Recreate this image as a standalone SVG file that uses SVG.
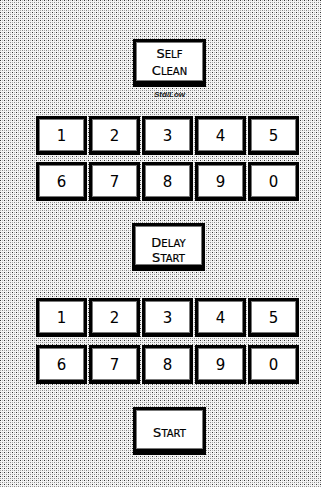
<svg xmlns="http://www.w3.org/2000/svg" width="321" height="487" viewBox="0 0 321 487">
<style>
.o{fill:#000}
.g{fill:#777}
.w{fill:#fff}
.d{font-family:"DejaVu Sans","Liberation Sans",sans-serif;font-size:15px;text-anchor:middle;fill:#000}
.t{font-family:"DejaVu Sans","Liberation Sans",sans-serif;font-size:10px;text-anchor:middle;fill:#000;stroke:#000;stroke-width:0.2}
.t .c{font-size:13px}
.s{font-family:"Liberation Sans",Arial,sans-serif;font-size:8px;font-style:italic;font-weight:bold;text-anchor:middle;fill:#222}
</style>
<defs>
<pattern id="st" width="4" height="4" patternUnits="userSpaceOnUse">
<rect width="4" height="4" fill="#f4f4f4"/>
<rect x="0" y="0" width="1" height="1" fill="#333"/>
<rect x="2" y="2" width="1" height="1" fill="#888"/>
<rect x="2" y="0" width="1" height="1" fill="#bbb"/>
<rect x="0" y="2" width="1" height="1" fill="#aaa"/>
</pattern>
<g id="key">
<rect class="o" x="0" y="0" width="51" height="39"/>
<rect class="g" x="3" y="3" width="45" height="32"/>
<rect class="w" x="4" y="4" width="43" height="30"/>
</g>
<g id="big">
<rect class="o" x="0" y="0" width="73" height="48"/>
<rect class="g" x="3" y="3" width="67" height="39"/>
<rect class="w" x="4" y="4" width="65" height="37"/>
</g>
</defs>
<rect width="321" height="487" fill="url(#st)"/>
<g id="self-clean">
<use href="#big" x="133" y="39"/>
<text class="t" x="169.5" y="58"><tspan class="c">S</tspan>ELF</text>
<text class="t" x="169.5" y="75"><tspan class="c">C</tspan>LEAN</text>
<text class="s" x="169.5" y="97">Std/Low</text>
</g>
<g id="keys-top">
<g id="k1a"><use href="#key" x="36" y="116"/><text class="d" x="61.5" y="141">1</text></g>
<g id="k2a"><use href="#key" x="89" y="116"/><text class="d" x="114.5" y="141">2</text></g>
<g id="k3a"><use href="#key" x="142" y="116"/><text class="d" x="167.5" y="141">3</text></g>
<g id="k4a"><use href="#key" x="195" y="116"/><text class="d" x="220.5" y="141">4</text></g>
<g id="k5a"><use href="#key" x="248" y="116"/><text class="d" x="273.5" y="141">5</text></g>
<g id="k6a"><use href="#key" x="36" y="162"/><text class="d" x="61.5" y="187">6</text></g>
<g id="k7a"><use href="#key" x="89" y="162"/><text class="d" x="114.5" y="187">7</text></g>
<g id="k8a"><use href="#key" x="142" y="162"/><text class="d" x="167.5" y="187">8</text></g>
<g id="k9a"><use href="#key" x="195" y="162"/><text class="d" x="220.5" y="187">9</text></g>
<g id="k0a"><use href="#key" x="248" y="162"/><text class="d" x="273.5" y="187">0</text></g>
</g>
<g id="delay-start">
<use href="#big" x="132" y="223"/>
<text class="t" x="168.5" y="247"><tspan class="c">D</tspan>ELAY</text>
<text class="t" x="168.5" y="262"><tspan class="c">S</tspan>TART</text>
</g>
<g id="keys-bottom">
<g id="k1b"><use href="#key" x="36" y="298"/><text class="d" x="61.5" y="323">1</text></g>
<g id="k2b"><use href="#key" x="89" y="298"/><text class="d" x="114.5" y="323">2</text></g>
<g id="k3b"><use href="#key" x="142" y="298"/><text class="d" x="167.5" y="323">3</text></g>
<g id="k4b"><use href="#key" x="195" y="298"/><text class="d" x="220.5" y="323">4</text></g>
<g id="k5b"><use href="#key" x="248" y="298"/><text class="d" x="273.5" y="323">5</text></g>
<g id="k6b"><use href="#key" x="36" y="345"/><text class="d" x="61.5" y="370">6</text></g>
<g id="k7b"><use href="#key" x="89" y="345"/><text class="d" x="114.5" y="370">7</text></g>
<g id="k8b"><use href="#key" x="142" y="345"/><text class="d" x="167.5" y="370">8</text></g>
<g id="k9b"><use href="#key" x="195" y="345"/><text class="d" x="220.5" y="370">9</text></g>
<g id="k0b"><use href="#key" x="248" y="345"/><text class="d" x="273.5" y="370">0</text></g>
</g>
<g id="start">
<use href="#big" x="133" y="407"/>
<text class="t" x="169.5" y="437"><tspan class="c">S</tspan>TART</text>
</g>
</svg>
